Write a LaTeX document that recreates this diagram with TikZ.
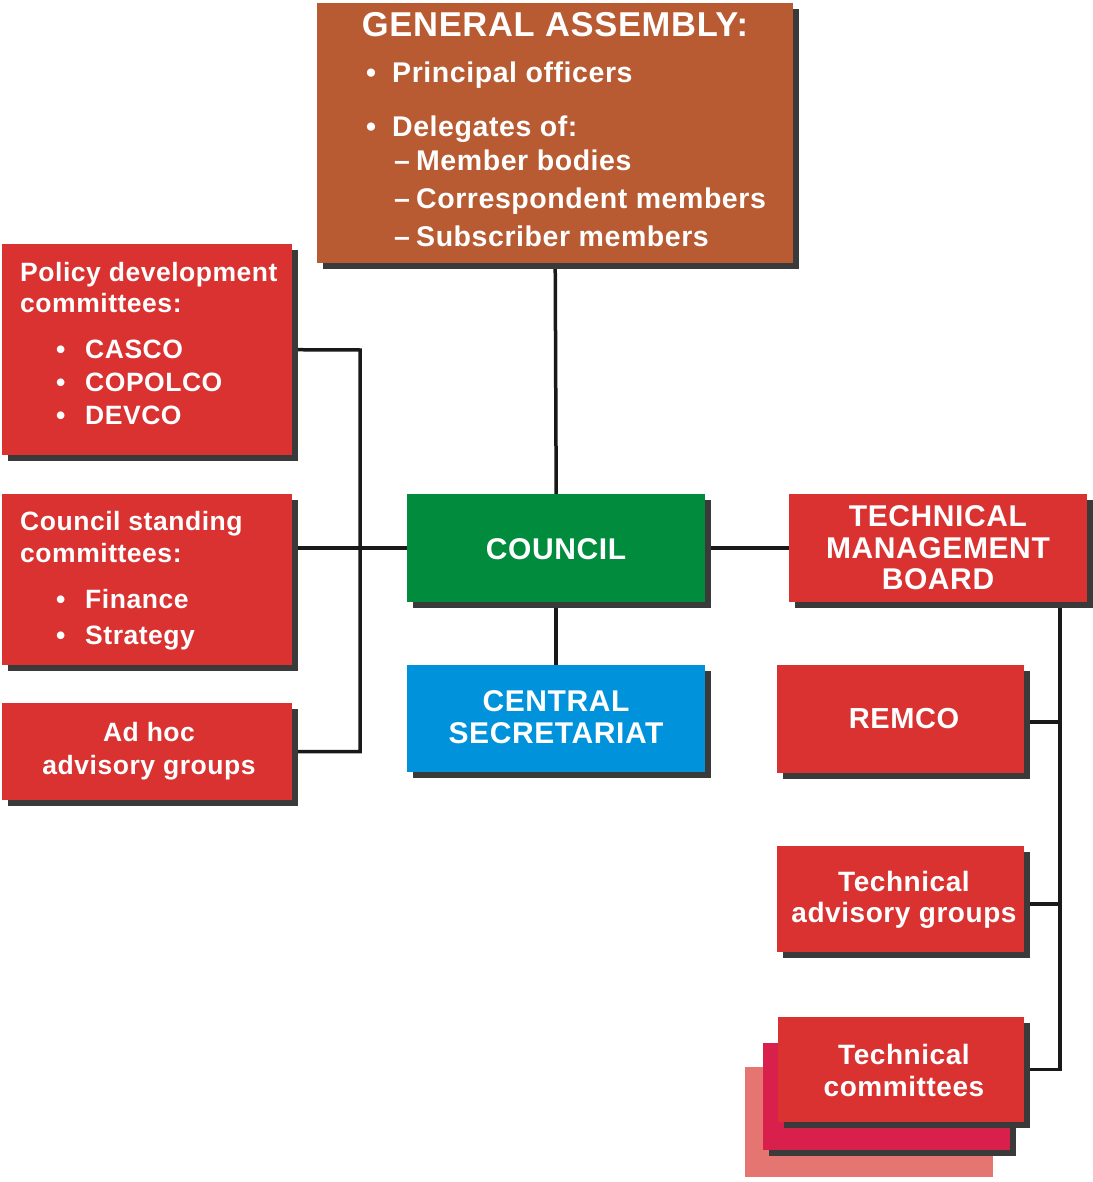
\documentclass[tikz,border=0pt]{standalone}
\usepackage{fontspec}
\setmainfont{Liberation Sans}[LetterSpace=2]
\usetikzlibrary{shadows}
\pgfdeclarelayer{background}
\pgfsetlayers{background,main}
\definecolor{gacol}{HTML}{B85A32}
\definecolor{redbox}{HTML}{DA3131}
\definecolor{greenbox}{HTML}{008C3C}
\definecolor{bluebox}{HTML}{0092DB}
\definecolor{crimsonbox}{HTML}{D91F4B}
\definecolor{pinkbox}{HTML}{E57570}
\definecolor{shadowcol}{HTML}{3A3A3A}
\newcommand{\fsz}[1]{\fontsize{#1}{#1}\selectfont}
\tikzset{
  box/.style={rectangle, inner sep=0pt, anchor=north west,
    drop shadow={shadow xshift=6pt, shadow yshift=-6pt, fill=shadowcol, opacity=1}},
  flatbox/.style={rectangle, inner sep=0pt, anchor=north west},
  conn/.style={line width=3.5pt, black!90},
  lbl/.style={text=white, inner sep=0pt},
  gatext/.style={lbl, anchor=base west, font=\bfseries\fsz{28.5}},
  ltext/.style={lbl, anchor=base west, font=\bfseries\fsz{26.5}},
  ctext/.style={lbl, anchor=base, font=\bfseries\fsz{26.5}},
  captext/.style={lbl, anchor=base, font=\bfseries\fsz{30}},
  rtext/.style={lbl, anchor=base, font=\bfseries\fsz{28}},
}
\begin{document}
\begin{tikzpicture}[x=1pt,y=-1pt]
\useasboundingbox (0,0) rectangle (1092,1182);

% ---------- boxes ----------
\node[box, fill=gacol, minimum width=476pt, minimum height=260pt] (ga) at (317,3) {};
\node[box, fill=redbox, minimum width=290pt, minimum height=211pt] (policy) at (2,244) {};
\node[box, fill=redbox, minimum width=290pt, minimum height=171pt] (standing) at (2,494) {};
\node[box, fill=redbox, minimum width=290pt, minimum height=97pt] (adhoc) at (2,703) {};
\node[box, fill=greenbox, minimum width=298pt, minimum height=108pt] (council) at (407,494) {};
\node[box, fill=bluebox, minimum width=298pt, minimum height=107pt] (secretariat) at (407,665) {};
\node[box, fill=redbox, minimum width=298pt, minimum height=108pt] (tmb) at (789,494) {};
\node[box, fill=redbox, minimum width=247pt, minimum height=108pt] (remco) at (777,665) {};
\node[box, fill=redbox, minimum width=247pt, minimum height=106pt] (tag) at (777,846) {};
\node[flatbox, fill=pinkbox, minimum width=248pt, minimum height=110pt] (tcback) at (745,1067) {};
\node[box, fill=crimsonbox, minimum width=247pt, minimum height=107pt] (tcmid) at (763,1043) {};
\node[box, fill=redbox, minimum width=246pt, minimum height=105pt] (tc) at (778,1017) {};

% ---------- connectors ----------
\coordinate (lbus) at (360,350);
\coordinate (rbus) at (1060,602);
\begin{pgfonlayer}{background}
\draw[conn] (ga.south) -- (council.north);
\draw[conn] (council.south) -- (secretariat.north);
\draw[conn] (council.east) -- (tmb.west);
\draw[conn] (policy.east) -- (lbus) |- (adhoc.east);
\draw[conn] (council.west) -- (council.west -| standing.east);
\draw[conn] (rbus) |- (tc.east);
\draw[conn] ([yshift=-3pt]remco.east) -- ([yshift=-3pt]remco.east -| rbus);
\draw[conn] ([yshift=-5pt]tag.east) -- ([yshift=-5pt]tag.east -| rbus);
\end{pgfonlayer}

% ---------- General Assembly ----------
\node[lbl, anchor=base, font=\bfseries\fsz{34.5}] (gatitle) at (555,37) {GENERAL ASSEMBLY:};
\node[gatext] (gab1) at (366,83) {•};
\node[gatext] (gat1) at (392,83) {Principal officers};
\node[gatext] (gab2) at (366,137) {•};
\node[gatext] (gat2) at (392,137) {Delegates of:};
\node[gatext] (gad1) at (394,171) {–};
\node[gatext] (gat3) at (416,171) {Member bodies};
\node[gatext] (gad2) at (394,209) {–};
\node[gatext] (gat4) at (416,209) {Correspondent members};
\node[gatext] (gad3) at (394,247) {–};
\node[gatext] (gat5) at (416,247) {Subscriber members};

% ---------- Policy development ----------
\node[ltext] (pol1) at (20,281) {Policy development};
\node[ltext] (pol2) at (20,312) {committees:};
\node[ltext] (polb1) at (56,358) {•};
\node[ltext] (pol3) at (85,358) {CASCO};
\node[ltext] (polb2) at (56,391) {•};
\node[ltext] (pol4) at (85,391) {COPOLCO};
\node[ltext] (polb3) at (56,424) {•};
\node[ltext] (pol5) at (85,424) {DEVCO};

% ---------- Council standing ----------
\node[ltext] (cs1) at (20,530) {Council standing};
\node[ltext] (cs2) at (20,562) {committees:};
\node[ltext] (csb1) at (56,608) {•};
\node[ltext] (cs3) at (85,608) {Finance};
\node[ltext] (csb2) at (56,644) {•};
\node[ltext] (cs4) at (85,644) {Strategy};

% ---------- Ad hoc ----------
\node[ctext] (ah1) at (149,741) {Ad hoc};
\node[ctext] (ah2) at (149,774) {advisory groups};

% ---------- centre ----------
\node[captext] (counciltxt) at (556,559) {COUNCIL};
\node[captext] (sec1) at (556,711) {CENTRAL};
\node[captext] (sec2) at (556,743) {SECRETARIAT};

% ---------- right ----------
\node[captext] (tmb1) at (938,526) {TECHNICAL};
\node[captext] (tmb2) at (938,558) {MANAGEMENT};
\node[captext] (tmb3) at (938,589) {BOARD};
\node[lbl, anchor=base, font=\bfseries\fsz{29}] (remcotxt) at (904,728) {REMCO};
\node[rtext] (tag1) at (904,891) {Technical};
\node[rtext] (tag2) at (904,922) {advisory groups};
\node[rtext] (tc1) at (904,1064) {Technical};
\node[rtext] (tc2) at (904,1096) {committees};
\end{tikzpicture}
\end{document}
